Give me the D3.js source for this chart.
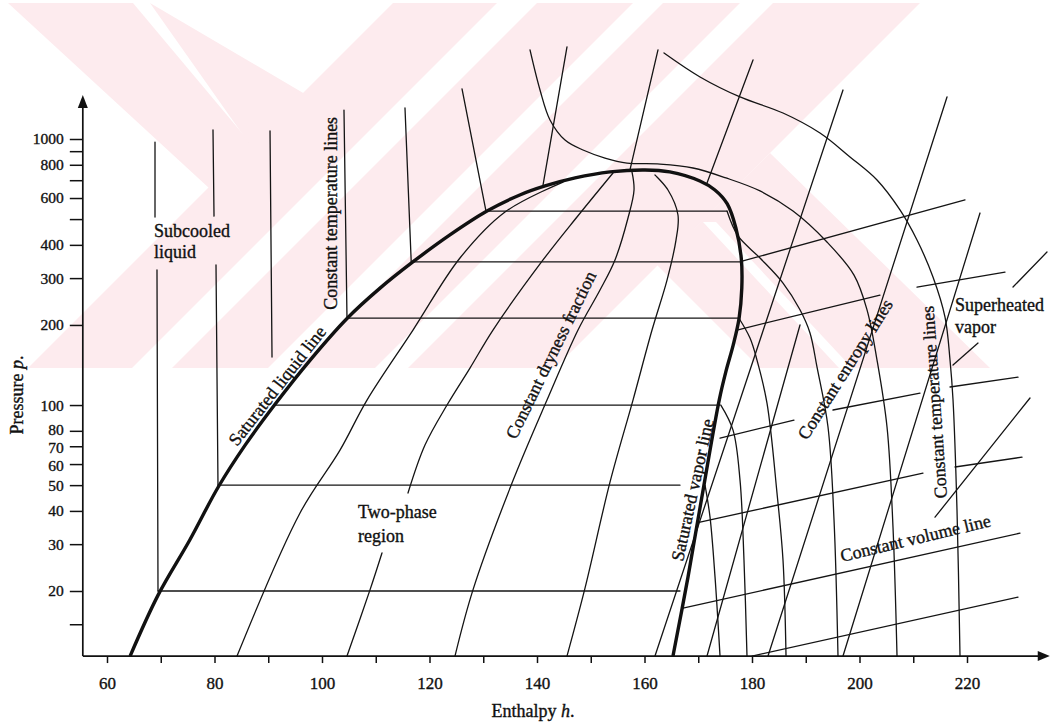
<!DOCTYPE html>
<html><head><meta charset="utf-8">
<script src="https://cdn.jsdelivr.net/npm/d3@7"></script>
<style>
body{margin:0;background:#fff}
svg{display:block}
text{font-family:"Liberation Serif","Times New Roman",serif;fill:#111;stroke:#111;stroke-width:0.35px}
</style>
</head><body>
<svg id="c" width="1050" height="724"></svg>
<script>
// ---------------- data (enthalpy h, pressure p) ----------------
const X_TICKS = [60,70,80,90,100,110,120,130,140,150,160,170,180,190,200,210,220];
const X_LABELS = [60,80,100,120,140,160,180,200,220];
const Y_TICKS = [1000,900,800,700,600,500,400,300,200,100,80,70,60,50,40,30,20,15];
const Y_LABELS = [1000,800,600,400,300,200,100,80,70,60,50,40,30,20];
const H_MIN = 55.5, H_END = 235.4, P_MIN = 11.39, P_END = 1463;

const satLiquid = [[64.3,11.39],[69.5,19.3],[75.4,31.1],[80.7,49.2],[85.7,70.7],[91.3,100.9],[97.8,147.6],[104.7,212],[110.8,275],[116.9,345],[123.8,436],[130.7,536],[136.8,616],[141.5,666],[147.1,714],[153.6,752],[160.1,765]];
const satVapor = [[160.1,765],[164.7,752],[170.3,695],[173.1,643],[175.4,570],[177.0,463],[178.0,357],[178.1,275],[177.6,212],[176.5,168],[175.2,135],[173.9,104.4],[170.9,47.9],[168.1,22.6],[165.3,11.39]];

// two-phase isobars: [p, h start, h end]
const isobars = [[20,69.5,166.6],[50,80.65,166.6],[100,91.26,174.0],[212,104.65,177.6],[345,116.9,178.0],[536,130.7,175.35]];

// subcooled liquid isotherms (segments)
const liquidIsotherms = [
  [[68.93,974],[68.93,509]], [[69.30,322],[69.49,20]],
  [[79.72,1081],[79.91,513]], [[80.28,336],[80.65,50]],
  [[90.33,1072],[90.70,151.5]],
  [[104.09,1285],[104.65,212]],
  [[115.44,1308],[116.6,345]],
  [[126.05,1542],[130.51,536]],
  [[145.58,2218],[141.12,671]],
  [[162.51,2161],[157.30,765]]
];

// curved isotherms
const isoCritical = [[138.7,2161],[140.56,1528],[142.42,1179],[145.21,991],[148.56,909],[152.65,848],[156.74,812],[162.88,805],[169.02,778],[175.16,714],[181.49,638],[187.63,536],[193.95,410],[198.98,308],[201.40,228],[203.26,147.6],[205.12,82.7],[206.23,34.8],[206.98,11.39]];
const isoOuter = [[163.63,2105],[170.33,1711],[177.77,1439],[185.77,1252],[192.65,1053],[198.23,856],[203.26,701],[207.53,541],[210.70,417],[213.67,303],[215.91,214],[216.84,147.6],[217.40,104.4],[218.14,40.3],[218.70,11.39]];
const iso536 = [[175.35,536],[177.40,432],[181.49,357],[185.77,287.5],[188.93,228],[190.79,186.6],[192.09,139],[194.14,82.7],[195.26,37.0],[196.0,11.39]];
const iso212 = [[177.58,212],[179.63,178.6],[180.93,147.6],[182.79,101.7],[184.65,46.7],[185.77,26.1],[186.33,11.39]];
const iso100 = [[174.2,100],[176.47,80.5],[177.77,52.2],[178.51,26.1],[179.07,11.39]];
const iso50 = [[171.26,50],[172.19,37.9],[173.12,22.6],[174.05,11.39]];

// constant dryness fraction lines
const dry1 = [[84.19,11.39],[95.91,39.3],[103.35,67.7],[108.37,104.4],[116.93,191.4],[125.67,357],[134.05,531.6],[144.84,689]];
const dry2a = [[104.65,11.39],[108.93,20.2],[111.16,27.8]];
const dry2b = [[116.0,46.7],[119.16,70.7],[123.26,100],[127.53,137.7],[131.81,191.4],[141.12,351],[147.44,509],[154.14,745]];
const dry3 = [[124.74,11.39],[128.09,20.2],[135.35,50.9],[141.86,104.4],[147.63,191.4],[151.72,270.5],[154.51,351],[156.93,504.7],[158.05,643],[157.67,752]];
const dry4 = [[145.58,11.39],[148.93,20.5],[153.58,51.3],[157.86,104.4],[161.40,191.4],[164.19,295],[165.86,417],[166.23,518],[164.37,643],[161.95,732]];

// constant entropy lines
const entropy = [
  [[171.63,683],[180.19,1982]],
  [[161.95,11.39],[196.93,1528]],
  [[171.63,11.39],[188.93,200]],
  [[182.98,11.39],[216.28,1439]],
  [[196.93,11.39],[222.42,527]],
  [[214.05,37.9],[231.72,106.3]],
  [[228.56,277.7],[234.88,376]],
  [[217.40,141.3],[222.05,171]]
];

// constant volume lines
const volume = [
  [[178.33,348],[219.63,590]],
  [[177.21,191.4],[203.81,259]], [[210.70,277.7],[227.07,316]],
  [[174.05,75.1],[187.81,87.8]], [[195.07,95.8],[211.26,110.9]], [[216.84,116.9],[229.49,127.4]],
  [[170.33,36.3],[211.81,55.5]], [[217.77,58.5],[230.23,63.7]],
  [[167.16,17.25],[229.86,33.0]],
  [[180.0,11.39],[229.49,18.97]]
];

// annotations: text, h, p, angle
const notes = [
  ["Subcooled",68.74,428,0],["liquid",68.74,357,0],
  ["Constant temperature lines",102.79,228,-90],
  ["Saturated liquid line",84.19,69.5,-52],
  ["Constant dryness fraction",136.1,73.8,-64],
  ["Two-phase",106.70,37.6,0],["region",106.70,30.5,0],
  ["Saturated vapor line",167.16,25.7,-77.7],
  ["Constant entropy lines",190.23,73.2,-57.7],
  ["Constant temperature lines",216.28,44.7,-94],
  ["Superheated",217.77,225.6,0],["vapor",217.77,186.6,0],
  ["Constant volume line",196.74,25.7,-13.5]
];

// faint background watermark of the scanned page (decoration, pixels)
const WATERMARK_PINK = [
  [[8,3],[133,3],[262,157],[222,200]],
  [[150,3],[310,97],[255,152]],
  [[393,3],[497,3],[132,368],[28,368]],
  [[537,3],[633,3],[268,368],[172,368]],
  [[663,3],[740,3],[375,368],[298,368]],
  [[773,3],[920,3],[555,368],[408,368]],
  [[770,153],[990,368],[760,368],[657,265]]
];
const WATERMARK_GAPS = [
  [[703,222],[716,222],[852,368],[839,368]]
];

// ---------------- drawing ----------------
const svg = d3.select("#c");
const x = d3.scaleLinear().domain([60,220]).range([107,967]);
const y = d3.scaleLog().domain([1000,20]).range([139,591]);

const wm = svg.append("g");
wm.selectAll(".p").data(WATERMARK_PINK).join("polygon").attr("class","p")
  .attr("points", d => d.map(q => q.join(",")).join(" ")).attr("fill", "#fdebee");
wm.selectAll(".w").data(WATERMARK_GAPS).join("polygon").attr("class","w")
  .attr("points", d => d.map(q => q.join(",")).join(" ")).attr("fill", "#ffffff");

const curve = d3.line().x(d => x(d[0])).y(d => y(d[1])).curve(d3.curveCatmullRom.alpha(0.5));
const straight = d3.line().x(d => x(d[0])).y(d => y(d[1]));

const g = svg.append("g").attr("fill","none").attr("stroke","#141414").attr("stroke-width",1.3).attr("stroke-linecap","round");

g.selectAll(".iso").data(isobars).join("path").attr("class","iso")
  .attr("d", d => straight([[d[1],d[0]],[d[2],d[0]]]));
g.selectAll(".lt").data(liquidIsotherms).join("path").attr("class","lt").attr("d", straight);
[isoCritical, isoOuter, iso536, iso212, iso100, iso50, dry1, dry2a, dry2b, dry3, dry4].forEach(s => {
  g.append("path").attr("d", curve(s));
});
g.selectAll(".en").data(entropy).join("path").attr("class","en").attr("d", straight);
g.selectAll(".vo").data(volume).join("path").attr("class","vo").attr("d", straight);

// saturation dome
svg.append("path").attr("d", curve(satLiquid.concat(satVapor.slice(1))))
  .attr("fill","none").attr("stroke","#111").attr("stroke-width",3.4).attr("stroke-linejoin","round");

// axes
const x0 = x(H_MIN), y0 = y(P_MIN), x1 = x(H_END), y1 = y(P_END);
const ax = svg.append("g").attr("stroke","#111").attr("stroke-width",1.7);
ax.append("line").attr("x1",x0).attr("y1",y0).attr("x2",x1-8).attr("y2",y0);
ax.append("line").attr("x1",x0).attr("y1",y0).attr("x2",x0).attr("y2",y1+10);
svg.append("polygon").attr("points",`${x1-12},${y0-5} ${x1},${y0} ${x1-12},${y0+5}`).attr("fill","#111");
svg.append("polygon").attr("points",`${x0-5},${y1+13} ${x0},${y1} ${x0+5},${y1+13}`).attr("fill","#111");

const xa = svg.append("g").attr("transform",`translate(0,${y0})`)
  .call(d3.axisBottom(x).tickValues(X_TICKS).tickSize(7).tickPadding(14)
    .tickFormat(d => X_LABELS.includes(d) ? d : ""));
xa.select(".domain").remove();
xa.selectAll("line").attr("stroke","#111").attr("stroke-width",1.5);
xa.selectAll("text").attr("font-size",17).attr("font-family","Liberation Serif").attr("fill","#111");

const ya = svg.append("g").attr("transform",`translate(${x0},0)`)
  .call(d3.axisLeft(y).tickValues(Y_TICKS).tickSize(13).tickPadding(6)
    .tickFormat(d => Y_LABELS.includes(d) ? d : ""));
ya.select(".domain").remove();
ya.selectAll("line").attr("stroke","#111").attr("stroke-width",1.5);
// tightly stacked labels: small vertical nudges keep them from colliding
const nudge = {80: -1.5, 70: 1, 60: 1.5};
ya.selectAll("text").attr("font-size",15.5).attr("font-family","Liberation Serif").attr("fill","#111")
  .attr("y", d => nudge[d] || 0);

// annotations
svg.append("g").selectAll("text").data(notes).join("text")
  .attr("transform", d => `translate(${x(d[1])},${y(d[2])}) rotate(${d[3]})`)
  .attr("font-size",18)
  .text(d => d[0]);

// axis titles
svg.append("text").attr("x",533).attr("y",717).attr("text-anchor","middle").attr("font-size",18)
  .html('Enthalpy <tspan font-style="italic">h</tspan>.');
svg.append("text").attr("transform","translate(23,395) rotate(-90)").attr("text-anchor","middle").attr("font-size",18)
  .html('Pressure <tspan font-style="italic">p</tspan>.');
</script>
</body></html>
